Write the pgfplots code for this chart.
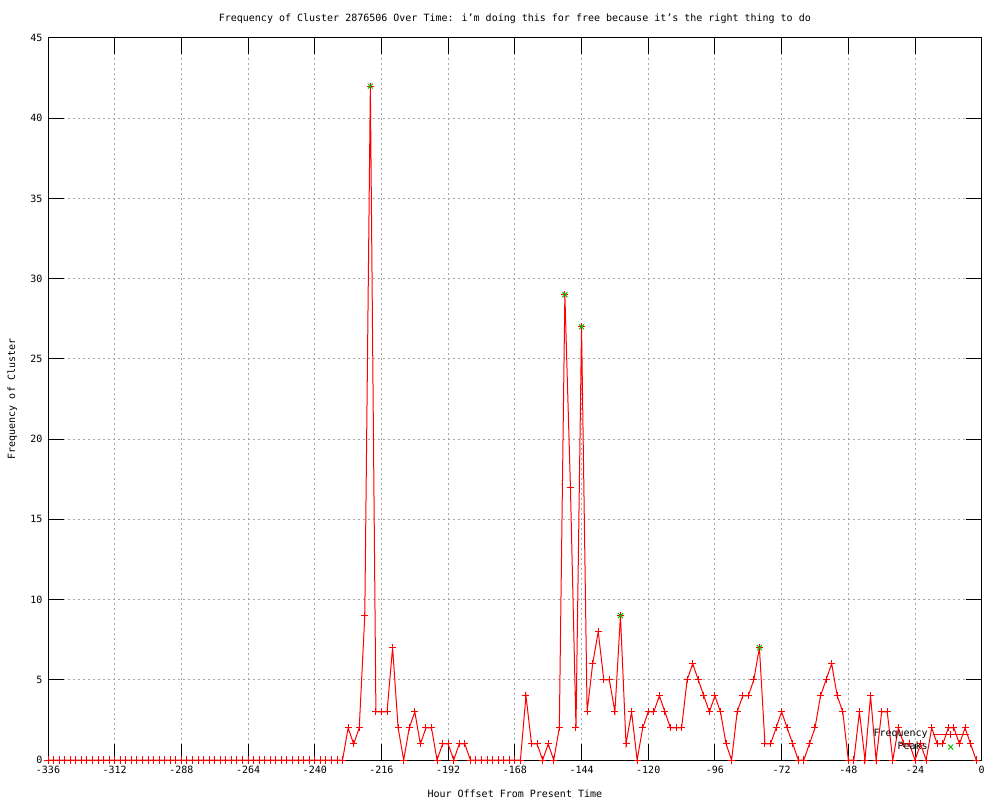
\documentclass[border=0pt]{standalone}
\usepackage{pgfplots}
\pgfplotsset{compat=1.18}
\usepackage{pgfplotstable}
\usepackage{fontspec}
\setmainfont{DejaVu Sans Mono}
\definecolor{gpred}{RGB}{255,0,0}
\definecolor{gpgreen}{RGB}{0,192,0}
\pgfplotstableread{
x y
-336 0
-334 0
-332 0
-330 0
-328 0
-326 0
-324 0
-322 0
-320 0
-318 0
-316 0
-314 0
-312 0
-310 0
-308 0
-306 0
-304 0
-302 0
-300 0
-298 0
-296 0
-294 0
-292 0
-290 0
-288 0
-286 0
-284 0
-282 0
-280 0
-278 0
-276 0
-274 0
-272 0
-270 0
-268 0
-266 0
-264 0
-262 0
-260 0
-258 0
-256 0
-254 0
-252 0
-250 0
-248 0
-246 0
-244 0
-242 0
-240 0
-238 0
-236 0
-234 0
-232 0
-230 0
-228 2
-226 1
-224 2
-222 9
-220 42
-218 3
-216 3
-214 3
-212 7
-210 2
-208 0
-206 2
-204 3
-202 1
-200 2
-198 2
-196 0
-194 1
-192 1
-190 0
-188 1
-186 1
-184 0
-182 0
-180 0
-178 0
-176 0
-174 0
-172 0
-170 0
-168 0
-166 0
-164 4
-162 1
-160 1
-158 0
-156 1
-154 0
-152 2
-150 29
-148 17
-146 2
-144 27
-142 3
-140 6
-138 8
-136 5
-134 5
-132 3
-130 9
-128 1
-126 3
-124 0
-122 2
-120 3
-118 3
-116 4
-114 3
-112 2
-110 2
-108 2
-106 5
-104 6
-102 5
-100 4
-98 3
-96 4
-94 3
-92 1
-90 0
-88 3
-86 4
-84 4
-82 5
-80 7
-78 1
-76 1
-74 2
-72 3
-70 2
-68 1
-66 0
-64 0
-62 1
-60 2
-58 4
-56 5
-54 6
-52 4
-50 3
-48 0
-46 0
-44 3
-42 0
-40 4
-38 0
-36 3
-34 3
-32 0
-30 2
-28 1
-26 1
-24 0
-22 1
-20 0
-18 2
-16 1
-14 1
-12 2
-10 2
-8 1
-6 2
-4 1
-2 0
}\freq
\pgfplotstableread{
x y
-220 42
-150 29
-144 27
-130 9
-80 7
}\peaks
\begin{document}
\begin{tikzpicture}[font=\fontsize{10bp}{12bp}\selectfont]
\useasboundingbox (0,0) rectangle (1000bp,800bp);
\begin{axis}[
  at={(48bp,40bp)}, anchor=south west,
  scale only axis, width=933.7bp, height=722bp,
  xmin=-336, xmax=0, ymin=0, ymax=45,
  xtick={-336,-312,...,0}, ytick={0,5,...,45},
  xticklabels={-336,-312,-288,-264,-240,-216,-192,-168,-144,-120,-96,-72,-48,-24,0},
  yticklabels={0,5,10,15,20,25,30,35,40,45},
  tick align=inside, major tick length=16bp,
  tick style={black, line width=1bp},
  axis line style={black, line width=1bp},
  grid=major,
  major grid style={gray!70, line width=1bp, dash pattern=on 2bp off 3bp},
  xticklabel style={yshift=-3bp},
  yticklabel style={xshift=-2bp},
  clip=false,
  title={Frequency of Cluster 2876506 Over Time: i’m doing this for free because it’s the right thing to do},
  title style={at={(0.5,1)}, anchor=base, yshift=11bp},
  xlabel={Hour Offset From Present Time},
  xlabel style={at={(0.5,0)}, anchor=base, yshift=-37bp},
  ylabel={Frequency of Cluster},
  ylabel style={at={([xshift=-33bp]axis description cs:0,0.5)}, anchor=base, rotate=0},
  legend plot pos=right,
  legend cell align=right,
  legend style={draw=none, fill=none, at={(0.99,0.048)}, anchor=north east,
    row sep=0pt, column sep=3bp,
    nodes={inner sep=1.5bp, text height=7.5bp, text depth=2.5bp}},
  legend image code/.code={\draw[mark repeat=2,mark phase=2] plot coordinates {(0bp,0bp) (18bp,0bp) (36bp,0bp)};},
]
\addplot[color=gpred, line width=1bp, mark=+, mark size=3.5bp, mark options={solid, gpred, line width=1bp}] table[x=x,y=y] {\freq};
\addlegendentry{Frequency}
\addplot[color=gpgreen, only marks, mark=x, mark size=3.5bp, mark options={gpgreen, line width=1bp}] table[x=x,y=y] {\peaks};
\addlegendentry{Peaks}
\end{axis}
\end{tikzpicture}
\end{document}
